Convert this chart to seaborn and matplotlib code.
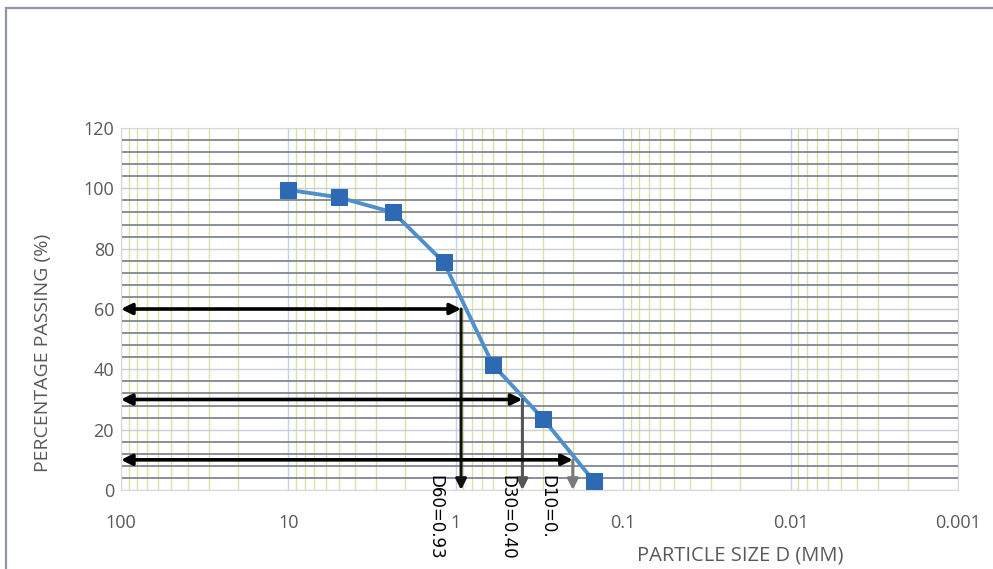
import matplotlib
matplotlib.use("Agg")
import matplotlib.pyplot as plt
from matplotlib.patches import Rectangle
from matplotlib.ticker import FixedLocator, NullFormatter, LogLocator
import numpy as np
import pandas as pd
import seaborn as sns

# ---- data ----
particle_size = [10.0, 5.0, 2.36, 1.18, 0.6, 0.3, 0.15]
percent_passing = [99.5, 97.0, 92.0, 75.5, 41.5, 23.5, 3.0]

d_levels = [60, 30, 10]
d_values = [0.93, 0.40, 0.20]
d_labels = ["D60=0.93", "D30=0.40", "D10=0."]

x_ticks = [100, 10, 1, 0.1, 0.01, 0.001]
x_tick_labels = ["100", "10", "1", "0.1", "0.01", "0.001"]
y_ticks = [0, 20, 40, 60, 80, 100, 120]

df = pd.DataFrame({"size": particle_size, "passing": percent_passing})

sns.set_theme(style="white")
plt.rcParams["font.family"] = ["Open Sans", "DejaVu Sans"]

fig = plt.figure(figsize=(9.93, 5.69), dpi=100)
ax = fig.add_axes([121 / 993, 1 - 490 / 569, (958 - 121) / 993, (490 - 128) / 569])

ax.set_xscale("log")
ax.set_xlim(100, 0.001)
ax.set_ylim(0, 120)

# grid
ax.xaxis.set_major_locator(FixedLocator(x_ticks))
ax.set_xticklabels(x_tick_labels)
ax.xaxis.set_minor_locator(LogLocator(base=10, subs=np.arange(2, 10), numticks=100))
ax.xaxis.set_minor_formatter(NullFormatter())
ax.set_yticks(y_ticks)
ax.yaxis.set_minor_locator(FixedLocator(np.arange(0, 121, 4)))

ax.grid(which="minor", axis="x", color="#d8e2a6", lw=1.0)
ax.grid(which="major", axis="x", color="#c6d3e4", lw=1.0)
ax.grid(which="minor", axis="y", color="#7f8794", lw=1.3)
ax.grid(which="major", axis="y", color="#c9ced6", lw=1.0)
ax.set_axisbelow(True)

for s in ax.spines.values():
    s.set_color("#d9d9d9")
    s.set_linewidth(0.8)

ax.tick_params(axis="both", which="both", length=0, labelsize=13, labelcolor="#595959")
ax.tick_params(axis="x", pad=17)
ax.tick_params(axis="y", pad=5)

# curve
sns.lineplot(data=df, x="size", y="passing", ax=ax, color="#4f8fcb", lw=2.8,
             marker="s", markersize=11.5, markerfacecolor="#2e69b3",
             markeredgecolor="#2e69b3", sort=False, legend=False, zorder=5)

# D arrows
vcolors = ["#111111", "#555555", "#7a7a7a"]
for lvl, dv, lab, vc in zip(d_levels, d_values, d_labels, vcolors):
    ax.annotate("", xy=(dv, lvl), xytext=(100, lvl),
                arrowprops=dict(arrowstyle="<|-|>", color="black", lw=2.6,
                                mutation_scale=16, shrinkA=0, shrinkB=0),
                annotation_clip=False, zorder=6)
    ax.annotate("", xy=(dv, 0), xytext=(dv, lvl),
                arrowprops=dict(arrowstyle="-|>", color=vc, lw=2.2,
                                mutation_scale=16, shrinkA=0, shrinkB=0),
                annotation_clip=False, zorder=6)
offsets = [-26, -15, -25]
for lvl, dv, lab, off in zip(d_levels, d_values, d_labels, offsets):
    ax.annotate(lab, xy=(dv, 5), xytext=(off, 0), textcoords="offset pixels",
                rotation=270, ha="center", va="top", fontsize=12,
                family=["DejaVu Sans"], color="black",
                annotation_clip=False, zorder=7)

ax.set_xlabel("PARTICLE SIZE D (MM)", fontsize=14.5, color="#595959")
ax.set_ylabel("PERCENTAGE PASSING (%)", fontsize=14, color="#595959")
ax.xaxis.set_label_coords(0.74, -0.152)
ax.yaxis.set_label_coords(-0.083, 0.38)

# outer chart frame
fig.add_artist(Rectangle((6 / 993, -0.01), 1.1, 1 - 8 / 569 + 0.01,
                         transform=fig.transFigure, fill=False,
                         edgecolor="#8d95a6", lw=1.6, clip_on=False))

fig.savefig("out.png", dpi=100)
